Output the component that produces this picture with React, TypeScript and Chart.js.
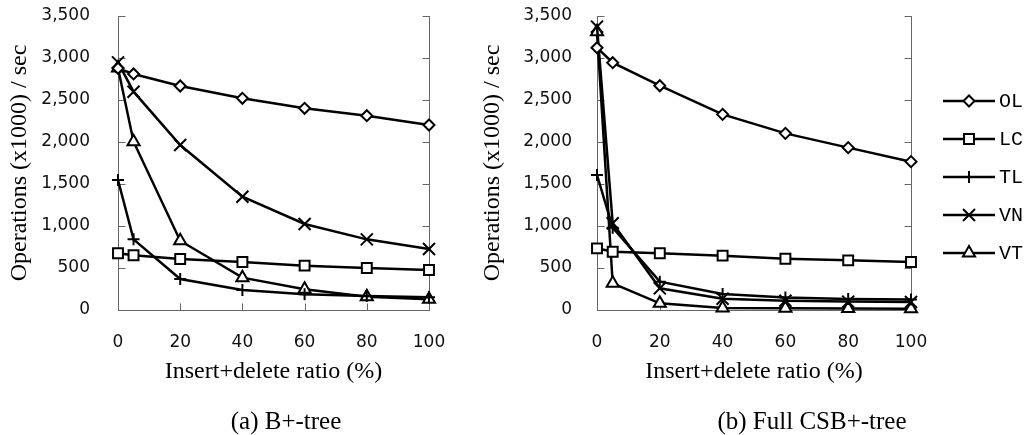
import React, { useEffect, useRef } from 'react';
import { Chart, registerables } from 'chart.js';
import { drawPoint } from 'chart.js/helpers';

Chart.register(...registerables);

// ---------- data ----------
const xValues = [0, 5, 20, 40, 60, 80, 100];
const seriesNames = ['OL', 'LC', 'TL', 'VN', 'VT'];

const bTreeOL = [2877, 2810, 2667, 2520, 2401, 2313, 2202];
const bTreeLC = [675, 651, 607, 571, 528, 500, 476];
const bTreeTL = [1548, 841, 369, 238, 187, 167, 151];
const bTreeVN = [2948, 2599, 1964, 1349, 1024, 841, 726];
const bTreeVT = [2880, 2004, 825, 385, 246, 159, 127];

const csbOL = [3123, 2944, 2670, 2329, 2103, 1933, 1766];
const csbLC = [734, 694, 675, 647, 611, 591, 571];
const csbTL = [1607, 980, 337, 190, 150, 130, 125];
const csbVN = [3373, 1032, 258, 135, 110, 100, 95];
const csbVT = [3313, 317, 79, 25, 20, 18, 15];

const yMin = 0;
const yMax = 3500;
const yStep = 500;
const xMin = 0;
const xMax = 100;
const xStep = 20;

const yTitle = 'Operations (x1000) / sec';
const xTitle = 'Insert+delete ratio (%)';
const captionA = '(a) B+-tree';
const captionB = '(b) Full CSB+-tree';

// ---------- styles ----------
const pointStyles: any[] = ['rectRot', 'rect', 'cross', 'crossRot', 'triangle'];
const pointRadii = [5.5, 7, 6, 8.5, 7];
const AXIS_COLOR = '#666';
const SERIF = '"Liberation Serif", "Times New Roman", serif';
const SANS = '"DejaVu Sans", sans-serif';
const MONO = '"Liberation Mono", "Courier New", monospace';
const TICK_LEN = 7;

function makeDatasets(series: number[][]) {
  return series.map((vals, i) => ({
    label: seriesNames[i],
    data: xValues.map((x, j) => ({ x, y: vals[j] })),
    borderColor: '#000',
    borderWidth: 2.5,
    backgroundColor: '#fff',
    pointStyle: pointStyles[i],
    pointRadius: pointRadii[i],
    pointBorderWidth: 2,
    pointBackgroundColor: '#fff',
    pointBorderColor: '#000',
    tension: 0,
    clip: false as any,
  }));
}

const frameTicksPlugin = {
  id: 'frameTicks',
  beforeDatasetsDraw(chart: any) {
    const { ctx, chartArea: a, scales } = chart;
    const xs = scales.x;
    const ys = scales.y;
    ctx.save();
    ctx.strokeStyle = AXIS_COLOR;
    ctx.lineWidth = 1;
    ctx.beginPath();
    const L = Math.round(a.left) + 0.5;
    const R = Math.round(a.right) + 0.5;
    const B = Math.round(a.bottom) + 0.5;
    // right border
    ctx.moveTo(R, Math.round(a.top));
    ctx.lineTo(R, B);
    for (let v = yMin; v <= yMax; v += yStep) {
      const py = Math.round(ys.getPixelForValue(v)) + 0.5;
      ctx.moveTo(L, py);
      ctx.lineTo(L + TICK_LEN, py);
      ctx.moveTo(R, py);
      ctx.lineTo(R - TICK_LEN, py);
    }
    for (let v = xMin; v <= xMax; v += xStep) {
      const px = Math.round(xs.getPixelForValue(v)) + 0.5;
      ctx.moveTo(px, B);
      ctx.lineTo(px, B - TICK_LEN);
    }
    ctx.stroke();
    ctx.restore();
  },
};

const legendPlugin = {
  id: 'sideLegend',
  afterDraw(chart: any) {
    const { ctx } = chart;
    const x0 = 473;
    const x1 = 525;
    const xm = 499;
    const xt = 529;
    const yStart = 101;
    const gap = 38;
    ctx.save();
    seriesNames.forEach((name, i) => {
      const y = yStart + i * gap;
      ctx.strokeStyle = '#000';
      ctx.lineWidth = 2.5;
      ctx.beginPath();
      ctx.moveTo(x0, y);
      ctx.lineTo(x1, y);
      ctx.stroke();
      ctx.fillStyle = '#fff';
      ctx.strokeStyle = '#000';
      ctx.lineWidth = 2;
      drawPoint(ctx, { pointStyle: pointStyles[i], radius: pointRadii[i], rotation: 0, borderWidth: 2 } as any, xm, y);
      ctx.fillStyle = '#000';
      ctx.font = `20px ${MONO}`;
      ctx.textAlign = 'left';
      ctx.textBaseline = 'middle';
      ctx.fillText(name, xt, y + 1);
    });
    ctx.restore();
  },
};

function makeConfig(series: number[][], opts: any): any {
  return {
    type: 'line',
    data: { datasets: makeDatasets(series) },
    plugins: opts.legend ? [frameTicksPlugin, legendPlugin] : [frameTicksPlugin],
    options: {
      animation: false,
      responsive: false,
      devicePixelRatio: 1,
      layout: { padding: { left: 0, top: 16, right: opts.padRight, bottom: 45 } },
      plugins: { legend: { display: false }, tooltip: { enabled: false }, title: { display: false } },
      scales: {
        x: {
          type: 'linear',
          min: xMin,
          max: xMax,
          afterFit: (s: any) => { s.height = 80; },
          border: { display: true, color: AXIS_COLOR, width: 1 },
          grid: { drawOnChartArea: false, drawTicks: true, tickLength: 22, tickColor: 'rgba(0,0,0,0)' },
          ticks: { stepSize: xStep, padding: 0, color: '#111', font: { family: SANS, size: 17 } },
          title: { display: true, text: xTitle, color: '#000', font: { family: SERIF, size: 24 }, padding: { top: 0, bottom: 4 } },
        },
        y: {
          type: 'linear',
          min: yMin,
          max: yMax,
          afterFit: (s: any) => { s.width = opts.yWidth; },
          border: { display: true, color: AXIS_COLOR, width: 1 },
          grid: { drawOnChartArea: false, drawTicks: true, tickLength: opts.yPad, tickColor: 'rgba(0,0,0,0)' },
          ticks: {
            stepSize: yStep,
            padding: 0,
            color: '#111',
            font: { family: SANS, size: 17 },
            callback: (v: any) => Number(v).toLocaleString('en-US'),
          },
          title: { display: true, text: yTitle, color: '#000', font: { family: SERIF, size: 24 }, padding: { top: opts.yTitlePad, bottom: 0 } },
        },
      },
    },
  };
}

export default function App() {
  const refA = useRef<HTMLCanvasElement>(null);
  const refB = useRef<HTMLCanvasElement>(null);

  useEffect(() => {
    const a = new Chart(
      refA.current!,
      makeConfig([bTreeOL, bTreeLC, bTreeTL, bTreeVN, bTreeVT], { padRight: 41, yWidth: 118, yPad: 28, yTitlePad: 5, legend: false })
    );
    const b = new Chart(
      refB.current!,
      makeConfig([csbOL, csbLC, csbTL, csbVN, csbVT], { padRight: 119, yWidth: 127, yPad: 25, yTitlePad: 8, legend: true })
    );
    return () => {
      a.destroy();
      b.destroy();
    };
  }, []);

  const captionStyle: React.CSSProperties = {
    position: 'absolute',
    top: 406,
    width: 300,
    textAlign: 'center',
    fontFamily: SERIF,
    fontSize: 25,
    lineHeight: '30px',
    color: '#000',
    whiteSpace: 'nowrap',
  };

  return (
    <div style={{ position: 'absolute', left: 0, top: 0, width: 1030, height: 435, background: '#fff', overflow: 'hidden' }}>
      <canvas ref={refA} width={470} height={435} style={{ position: 'absolute', left: 0, top: 0, width: 470, height: 435 }} />
      <canvas ref={refB} width={560} height={435} style={{ position: 'absolute', left: 470, top: 0, width: 560, height: 435 }} />
      <div style={{ ...captionStyle, left: 286 - 150 }}>{captionA}</div>
      <div style={{ ...captionStyle, left: 812 - 150 }}>{captionB}</div>
    </div>
  );
}
